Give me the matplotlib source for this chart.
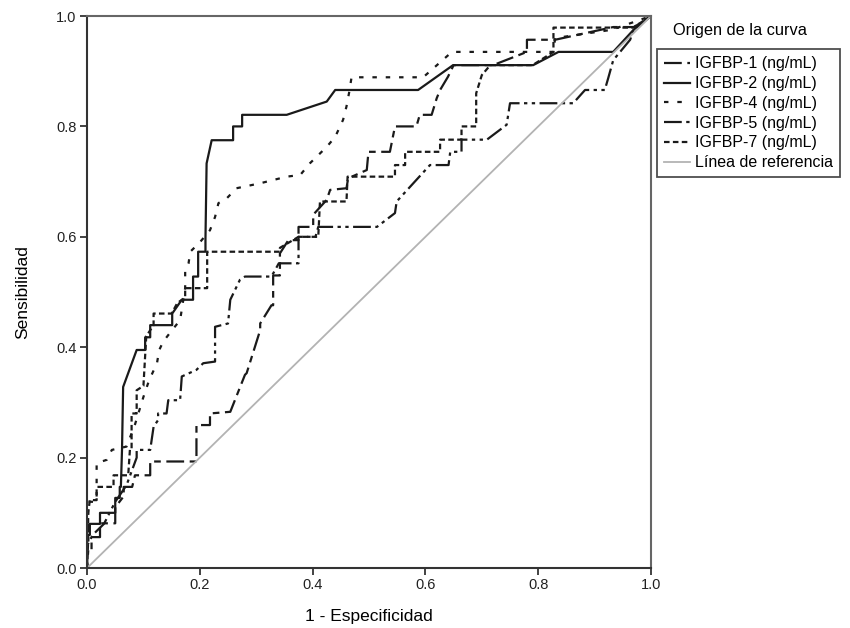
import matplotlib.pyplot as plt

plt.rcParams['font.family'] = ['Liberation Sans', 'DejaVu Sans']

# Curvas ROC (1 - especificidad, sensibilidad)
igfbp1_x = [0, 0, 0.008, 0.008, 0.023, 0.023, 0.05, 0.05, 0.065, 0.065, 0.08, 0.085, 0.112, 0.112,
            0.194, 0.194, 0.218, 0.218, 0.254, 0.28, 0.283, 0.307, 0.307, 0.327, 0.33, 0.33, 0.342,
            0.342, 0.357, 0.375, 0.375, 0.401, 0.401, 0.425, 0.431, 0.46, 0.463, 0.496, 0.499, 0.537,
            0.546, 0.584, 0.59, 0.611, 0.62, 0.626, 0.64, 0.65, 0.72, 0.78, 0.78, 0.83, 0.933, 0.97, 1]
igfbp1_y = [0, 0.03, 0.03, 0.056, 0.056, 0.081, 0.081, 0.11, 0.13, 0.147, 0.147, 0.168, 0.168, 0.193,
            0.193, 0.259, 0.259, 0.28, 0.283, 0.35, 0.353, 0.431, 0.443, 0.476, 0.476, 0.53, 0.53,
            0.57, 0.594, 0.594, 0.618, 0.618, 0.64, 0.667, 0.685, 0.688, 0.706, 0.721, 0.754, 0.754,
            0.80, 0.80, 0.821, 0.821, 0.851, 0.866, 0.89, 0.911, 0.911, 0.935, 0.957, 0.957, 0.98, 0.98, 1]

igfbp2_x = [0, 0, 0.005, 0.005, 0.023, 0.023, 0.05, 0.05, 0.058, 0.058, 0.06, 0.062, 0.064, 0.088,
            0.103, 0.103, 0.112, 0.112, 0.151, 0.151, 0.168, 0.188, 0.188, 0.197, 0.197, 0.21, 0.21,
            0.212, 0.221, 0.259, 0.259, 0.275, 0.275, 0.354, 0.425, 0.44, 0.587, 0.649, 0.791, 0.836,
            0.933, 0.969, 1]
igfbp2_y = [0, 0.06, 0.06, 0.08, 0.08, 0.10, 0.10, 0.127, 0.127, 0.147, 0.147, 0.214, 0.328, 0.395,
            0.395, 0.418, 0.418, 0.44, 0.44, 0.461, 0.486, 0.486, 0.528, 0.528, 0.573, 0.573, 0.597,
            0.733, 0.775, 0.775, 0.80, 0.80, 0.821, 0.821, 0.845, 0.866, 0.866, 0.911, 0.911, 0.935,
            0.935, 0.975, 1]

igfbp4_x = [0, 0.002, 0.002, 0.017, 0.017, 0.035, 0.044, 0.07, 0.085, 0.1, 0.11, 0.124, 0.128, 0.135,
            0.15, 0.165, 0.174, 0.174, 0.18, 0.183, 0.2, 0.218, 0.227, 0.233, 0.248, 0.265, 0.307,
            0.354, 0.378, 0.395, 0.425, 0.44, 0.454, 0.46, 0.465, 0.469, 0.596, 0.647, 0.827, 0.83,
            0.93, 1]
igfbp4_y = [0, 0.03, 0.12, 0.12, 0.19, 0.196, 0.214, 0.22, 0.26, 0.31, 0.34, 0.371, 0.395, 0.41,
            0.43, 0.449, 0.507, 0.537, 0.552, 0.573, 0.59, 0.612, 0.636, 0.661, 0.67, 0.688, 0.697,
            0.709, 0.712, 0.733, 0.763, 0.781, 0.812, 0.836, 0.863, 0.889, 0.889, 0.935, 0.935, 0.96,
            0.975, 1]

igfbp5_x = [0, 0, 0.01, 0.03, 0.05, 0.07, 0.088, 0.088, 0.112, 0.118, 0.126, 0.126, 0.141, 0.144,
            0.165, 0.168, 0.194, 0.206, 0.227, 0.227, 0.25, 0.254, 0.271, 0.28, 0.327, 0.34, 0.375,
            0.375, 0.405, 0.41, 0.514, 0.546, 0.549, 0.608, 0.641, 0.644, 0.664, 0.664, 0.709, 0.744,
            0.75, 0.862, 0.883, 0.918, 0.924, 0.933, 0.963, 0.969, 1]
igfbp5_y = [0, 0.04, 0.06, 0.08, 0.12, 0.15, 0.2, 0.214, 0.214, 0.256, 0.268, 0.28, 0.28, 0.304,
            0.304, 0.347, 0.359, 0.371, 0.374, 0.437, 0.443, 0.486, 0.522, 0.528, 0.528, 0.552, 0.552,
            0.60, 0.60, 0.618, 0.618, 0.643, 0.664, 0.73, 0.73, 0.754, 0.754, 0.776, 0.776, 0.803,
            0.842, 0.842, 0.866, 0.866, 0.887, 0.92, 0.957, 0.975, 1]

igfbp7_x = [0, 0.002, 0.002, 0.005, 0.017, 0.017, 0.047, 0.047, 0.073, 0.076, 0.079, 0.079, 0.088,
            0.088, 0.1, 0.105, 0.118, 0.118, 0.15, 0.16, 0.174, 0.174, 0.213, 0.213, 0.342, 0.342,
            0.375, 0.41, 0.413, 0.46, 0.462, 0.546, 0.546, 0.564, 0.564, 0.626, 0.626, 0.664, 0.664,
            0.69, 0.69, 0.70, 0.715, 0.79, 0.827, 0.827, 0.968, 1]
igfbp7_y = [0, 0.05, 0.10, 0.123, 0.123, 0.147, 0.147, 0.168, 0.168, 0.214, 0.214, 0.28, 0.28,
            0.322, 0.33, 0.42, 0.44, 0.461, 0.461, 0.48, 0.49, 0.507, 0.507, 0.573, 0.573, 0.58,
            0.60, 0.60, 0.664, 0.664, 0.709, 0.709, 0.73, 0.73, 0.754, 0.754, 0.776, 0.776, 0.80,
            0.80, 0.86, 0.893, 0.911, 0.911, 0.935, 0.979, 0.979, 1]

ticks = [0.0, 0.2, 0.4, 0.6, 0.8, 1.0]
tick_labels = ['0.0', '0.2', '0.4', '0.6', '0.8', '1.0']

fig = plt.figure(figsize=(8.5, 6.28), dpi=100)
ax = fig.add_axes([0.1024, 0.0955, 0.6635, 0.879])

c = '#1a1a1a'
lw = 1.6
ax.plot(igfbp1_x, igfbp1_y, color=c, lw=lw, ls=(0, (8, 2.5, 3, 2.5)), label='IGFBP-1 (ng/mL)')
ax.plot(igfbp2_x, igfbp2_y, color=c, lw=lw, ls='-', label='IGFBP-2 (ng/mL)')
ax.plot(igfbp4_x, igfbp4_y, color=c, lw=lw, ls=(0, (2, 4)), label='IGFBP-4 (ng/mL)')
ax.plot(igfbp5_x, igfbp5_y, color=c, lw=lw, ls=(0, (8, 2, 1.5, 2, 1.5, 2)), label='IGFBP-5 (ng/mL)')
ax.plot(igfbp7_x, igfbp7_y, color=c, lw=lw, ls=(0, (2.5, 1.5)), label='IGFBP-7 (ng/mL)')
ax.plot([0, 1], [0, 1], color='#b3b3b3', lw=1.3, label='Línea de referencia')

ax.set_xlim(0, 1)
ax.set_ylim(0, 1)
ax.set_xticks(ticks)
ax.set_xticklabels(tick_labels)
ax.set_yticks(ticks)
ax.set_yticklabels(tick_labels)
ax.tick_params(direction='out', length=5, width=1.2, labelsize=10.5, colors='#222222', pad=2.5)
for s in ax.spines.values():
    s.set_color('#666666')
    s.set_linewidth(1.5)
ax.spines['left'].set_color('#333333')
ax.spines['bottom'].set_color('#333333')

ax.set_xlabel('1 - Especificidad', fontsize=12.5, labelpad=12)
ax.set_ylabel('Sensibilidad', fontsize=12.5, labelpad=19)

fig.text(0.8706, 0.951, 'Origen de la curva', ha='center', va='center', fontsize=11.8)
leg = ax.legend(loc='upper left', bbox_to_anchor=(1.011, 0.94), fontsize=11.5,
                frameon=True, fancybox=False, handlelength=1.6, handletextpad=0.3,
                labelspacing=0.3, borderpad=0.45, borderaxespad=0)
leg.get_frame().set_edgecolor('#222222')
leg.get_frame().set_linewidth(1.3)

fig.savefig('out.png', dpi=100)
